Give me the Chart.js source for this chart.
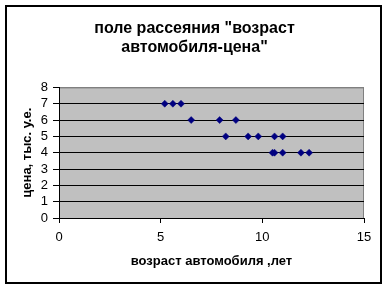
<!DOCTYPE html>
<html>
<head>
<meta charset="utf-8">
<script src="https://cdn.jsdelivr.net/npm/chart.js@4"></script>
<style>
  html, body { margin: 0; padding: 0; background: #fff; }
  #wrap { width: 389px; height: 289px; }
</style>
</head>
<body>
<div id="wrap"><canvas id="myChart" width="389" height="289"></canvas></div>
<script>
// data
const ages = [5.2, 5.6, 6.0, 6.5, 7.9, 8.7, 8.2, 9.3, 9.8, 10.6, 11.0, 10.5, 10.6, 11.0, 11.9, 12.3];
const prices = [7, 7, 7, 6, 6, 6, 5, 5, 5, 5, 5, 4, 4, 4, 4, 4];
const xTicks = [0, 5, 10, 15];
const yTicks = [0, 1, 2, 3, 4, 5, 6, 7, 8];

const chartTitle = ['поле рассеяния "возраст', 'автомобиля-цена"'];
const xTitle = 'возраст автомобиля ,лет';
const yTitle = 'цена, тыс. у.е.';

const points = ages.map((a, i) => ({ x: a, y: prices[i] }));

Chart.defaults.font.family = 'Arial, "Liberation Sans", sans-serif';
Chart.defaults.color = '#000';

// grey plot area + outer frame, like the old Excel chart
const excelLook = {
    id: 'excelLook',
    beforeDraw(chart) {
        const { ctx, chartArea: a } = chart;
        ctx.save();
        ctx.fillStyle = '#c0c0c0';
        ctx.fillRect(a.left, a.top, a.right - a.left, a.bottom - a.top);
        ctx.strokeStyle = '#808080';
        ctx.lineWidth = 1;
        ctx.strokeRect(a.left + 0.5, a.top + 0.5, a.right - a.left - 1, a.bottom - a.top);
        ctx.restore();
    },
    afterDraw(chart) {
        const ctx = chart.ctx;
        ctx.save();
        ctx.strokeStyle = '#000';
        ctx.lineWidth = 2;
        ctx.strokeRect(6, 6, 375, 277);
        ctx.restore();
    }
};

const ctx = document.getElementById('myChart').getContext('2d');

new Chart(ctx, {
    type: 'scatter',
    data: {
        datasets: [{
            data: points,
            pointStyle: 'rectRot',
            pointRadius: 3.5,
            pointHoverRadius: 3.5,
            backgroundColor: '#000080',
            borderColor: '#000080',
            borderWidth: 0.5
        }]
    },
    options: {
        responsive: false,
        animation: false,
        events: [],
        layout: { padding: { left: 25, right: 25, top: 5, bottom: 0 } },
        plugins: {
            legend: { display: false },
            tooltip: { enabled: false },
            title: {
                display: true,
                text: chartTitle,
                color: '#000',
                font: { size: 16, weight: 'bold' },
                lineHeight: 1.25,
                padding: { top: 14, bottom: 30 }
            }
        },
        scales: {
            x: {
                type: 'linear',
                min: 0,
                max: 15,
                afterFit(scale) { scale.height = 71; },
                afterBuildTicks(scale) { scale.ticks = xTicks.map(v => ({ value: v })); },
                border: { color: '#000', width: 1 },
                grid: { drawOnChartArea: false, drawTicks: true, tickLength: 5, tickColor: '#000' },
                ticks: { font: { size: 13 }, padding: 7, color: '#000', autoSkip: false },
                title: {
                    display: true,
                    text: xTitle,
                    font: { size: 13, weight: 'bold' },
                    padding: { top: 0, bottom: 20 }
                }
            },
            y: {
                min: 0,
                max: 8,
                afterFit(scale) { scale.width = 34; },
                afterBuildTicks(scale) { scale.ticks = yTicks.map(v => ({ value: v })); },
                border: { color: '#000', width: 1 },
                grid: {
                    color: c => (c.tick && c.tick.value === 8 ? '#808080' : '#000'),
                    tickColor: '#000',
                    tickLength: 6,
                    lineWidth: 1
                },
                ticks: { font: { size: 13 }, padding: 5, color: '#000', autoSkip: false },
                title: {
                    display: true,
                    text: yTitle,
                    font: { size: 13, weight: 'bold' },
                    padding: { top: -5, bottom: 0 }
                }
            }
        }
    },
    plugins: [excelLook]
});
</script>
</body>
</html>
